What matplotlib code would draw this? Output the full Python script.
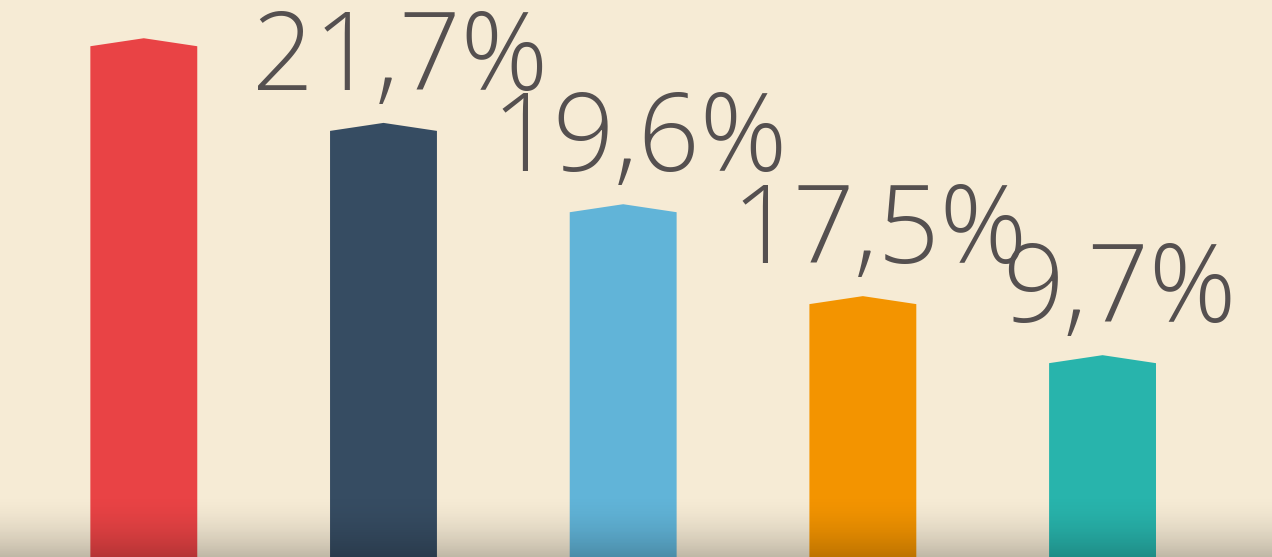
import numpy as np
import matplotlib.pyplot as plt
from matplotlib.patches import Polygon

# data: bar heights as drawn (share of the chart height, %), and their printed labels
categories = ['A', 'B', 'C', 'D', 'E']
heights = [91.7, 76.5, 61.9, 45.4, 34.8]
labels = [None, '21,7%', '19,6%', '17,5%', '9,7%']
colors = ['#E94345', '#364C62', '#61B4D8', '#F39400', '#28B4AC']

bg = '#F6EBD5'
text_color = '#555050'

fig = plt.figure(figsize=(12.72, 5.57), dpi=100, facecolor=bg)
ax = fig.add_axes([0, 0, 1, 1])
ax.set_facecolor(bg)

ymax = 100
xlim = (-0.60, 4.707)

width = 0.446
tip = ymax * 8 / 557  # pointed roof height
for i, (h, c) in enumerate(zip(heights, colors)):
    x0, x1 = i - width / 2, i + width / 2
    pts = [(x0, 0), (x0, h), (i, h + tip), (x1, h), (x1, 0)]
    ax.add_patch(Polygon(pts, closed=True, facecolor=c, edgecolor='none', zorder=2))
    if labels[i]:
        ax.annotate(labels[i], (i, h + tip), xytext=(12, 24), textcoords='offset points',
                    ha='center', va='baseline', fontsize=78, color=text_color,
                    family='Open Sans', fontweight='light', zorder=3)

# soft shadow along the bottom edge
grad = np.linspace(0, 1, 100) ** 1.8
rgba = np.zeros((100, 1, 4))
rgba[..., 3] = (grad * 0.22)[:, None]
ax.imshow(rgba, extent=(xlim[0], xlim[1], 0, ymax * 65 / 557), aspect='auto',
          zorder=4, interpolation='bilinear', origin='upper')
ax.set_xlim(*xlim)
ax.set_ylim(0, ymax)

ax.axis('off')
fig.savefig('out.png', dpi=100, facecolor=bg)
